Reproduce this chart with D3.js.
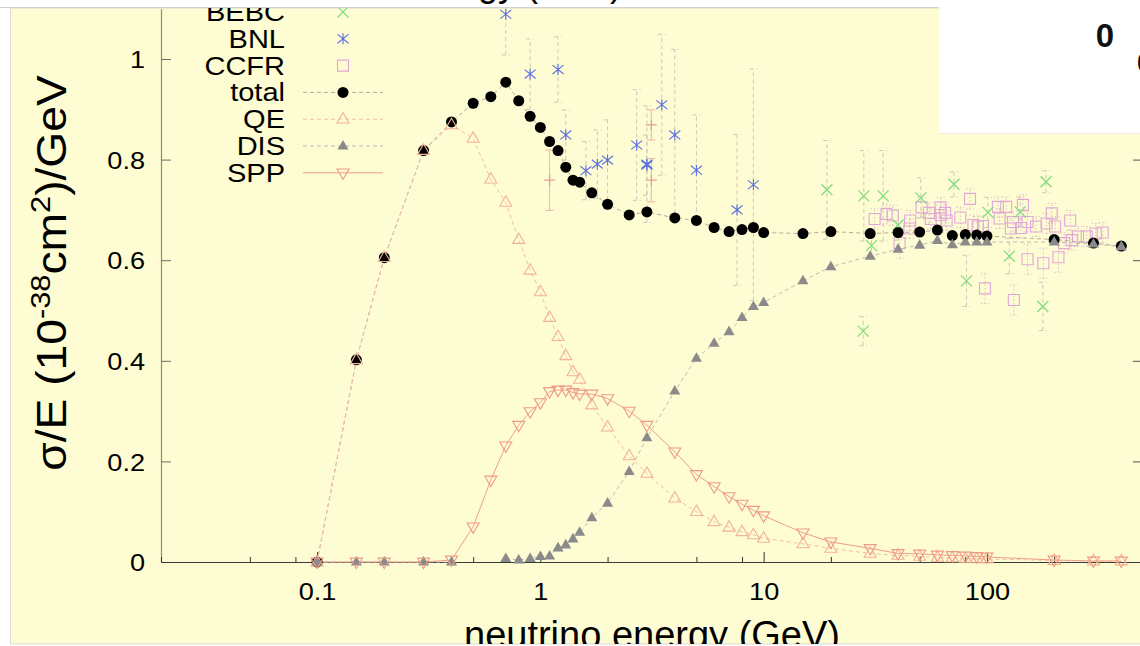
<!DOCTYPE html>
<html>
<head>
<meta charset="utf-8">
<script src="https://cdn.jsdelivr.net/npm/d3@7"></script>
<style>
  html, body { margin: 0; padding: 0; background: #ffffff; overflow: hidden; }
  svg { display: block; }
</style>
</head>
<body>
<svg id="chart" width="1140" height="646"></svg>
<script>
// ---- model curves on a common neutrino-energy grid (GeV) ----
const energies = [0.1, 0.15, 0.2, 0.3, 0.4, 0.5, 0.6, 0.7, 0.8, 0.9, 1.0, 1.1, 1.2, 1.3, 1.4, 1.5, 1.7, 2.0, 2.5, 3.0,
                  4.0, 5.0, 6.0, 7.0, 8.0, 9.0, 10, 15, 20, 30, 40, 50, 60, 70, 80, 90, 100, 200, 300, 400];
const totalXsec = [0, 0.402, 0.605, 0.818, 0.875, 0.912, 0.925, 0.954, 0.917, 0.886, 0.864, 0.836, 0.818, 0.785, 0.759, 0.755, 0.734, 0.711, 0.690, 0.696,
                   0.684, 0.679, 0.665, 0.657, 0.661, 0.665, 0.655, 0.653, 0.657, 0.653, 0.655, 0.656, 0.660, 0.649, 0.651, 0.650, 0.648, 0.641, 0.634, 0.628];
const qeXsec = [0, 0.402, 0.605, 0.818, 0.869, 0.842, 0.761, 0.715, 0.641, 0.580, 0.537, 0.486, 0.448, 0.410, 0.378, 0.363, 0.312, 0.268, 0.211, 0.176,
                0.127, 0.100, 0.080, 0.069, 0.060, 0.054, 0.047, 0.036, 0.027, 0.017, 0.013, 0.011, 0.009, 0.008, 0.007, 0.006, 0.006, 0.003, 0.002, 0.002];
const disXsec = [0, 0, 0, 0, 0, null, null, 0.007, 0.004, 0.007, 0.011, 0.012, 0.028, 0.034, 0.046, 0.059, 0.088, 0.117, 0.180, 0.247,
                 0.340, 0.405, 0.435, 0.458, 0.486, 0.508, 0.516, 0.559, 0.587, 0.608, 0.622, 0.630, 0.639, 0.631, 0.636, 0.636, 0.636, 0.636, 0.632, 0.627];
const sppXsec = [0, 0, 0, 0, 0.004, 0.070, 0.163, 0.231, 0.272, 0.299, 0.317, 0.339, 0.342, 0.342, 0.337, 0.334, 0.334, 0.325, 0.300, 0.272,
                 0.219, 0.174, 0.150, 0.130, 0.115, 0.103, 0.092, 0.058, 0.040, 0.027, 0.017, 0.016, 0.014, 0.013, 0.012, 0.011, 0.010, 0.004, 0.002, 0.002];

// ---- measurements: energy, sigma/E, error ----
const bebcE   = [19.2, 28.1, 34.3, 50.6, 71.2, 184, 30.4, 40, 101, 141, 126, 81, 178, 27.9];
const bebcVal = [0.740, 0.728, 0.728, 0.724, 0.751, 0.756, 0.629, 0.670, 0.695, 0.696, 0.608, 0.559, 0.508, 0.459];
const bebcErr = [0.098, 0.090, 0.090, 0.040, 0.025, 0.022, 0.025, 0.030, 0.030, 0.030, 0.035, 0.051, 0.048, 0.029];

const bnlE   = [0.7, 0.9, 1.2, 1.3, 1.6, 1.8, 2.0, 2.7, 3.0, 3.0, 3.5, 4.0, 5.0, 7.6, 9.0];
const bnlVal = [1.089, 0.970, 0.979, 0.849, 0.778, 0.791, 0.799, 0.829, 0.791, 0.789, 0.909, 0.849, 0.779, 0.700, 0.750];
const bnlErr = [0.081, 0.070, 0.065, 0.050, 0.058, 0.068, 0.080, 0.110, 0.116, 0.060, 0.140, 0.170, 0.110, 0.150, 0.230];

const ccfrE   = [31.4, 35.5, 37.9, 40.6, 45.3, 45, 51, 55, 56, 62, 62, 65, 66, 76, 84, 87, 91, 96, 98, 112, 114, 122, 128, 131, 132,
                 145, 152, 152, 166, 179, 185, 195, 202, 209, 222, 236, 256, 280, 307, 330, 142, 240];
const ccfrVal = [0.682, 0.692, 0.689, 0.634, 0.679, 0.663, 0.705, 0.694, 0.682, 0.705, 0.690, 0.694, 0.679, 0.685, 0.722, 0.670, 0.667, 0.668, 0.544, 0.706, 0.683, 0.706, 0.663, 0.676, 0.521,
                 0.710, 0.676, 0.602, 0.667, 0.594, 0.673, 0.693, 0.667, 0.606, 0.634, 0.679, 0.647, 0.647, 0.653, 0.655, 0.664, 0.640];
const ccfrErr = [0.020, 0.020, 0.020, 0.030, 0.020, 0.020, 0.020, 0.020, 0.020, 0.020, 0.020, 0.020, 0.020, 0.020, 0.020, 0.020, 0.020, 0.020, 0.030, 0.020, 0.020, 0.020, 0.020, 0.020, 0.030,
                 0.020, 0.020, 0.030, 0.020, 0.030, 0.020, 0.020, 0.020, 0.030, 0.020, 0.020, 0.020, 0.020, 0.020, 0.020, 0.020, 0.020];

const plusE   = [1.1, 3.14, 3.14];
const plusVal = [0.759, 0.869, 0.759];
const plusErr = [0.060, 0.030, 0.043];

// ---- axis ticks and legend ----
const xTickValues = [0.1, 1, 10, 100];
const xTickLabels = ["0.1", "1", "10", "100"];
const xMinorTicks = [0.02, 0.05, 0.08, 0.2, 0.5, 0.8, 2, 5, 8, 20, 50, 80, 200];
const yTickValues = [0, 0.2, 0.4, 0.6, 0.8, 1];
const yTickLabels = ["0", "0.2", "0.4", "0.6", "0.8", "1"];
const legendNames = ["BEBC", "BNL", "CCFR", "total", "QE", "DIS", "SPP"];

const FONT = "'Liberation Sans', Arial, Helvetica, sans-serif";
const colors = {
  bg: "#fefcd2",
  total: "#000000", totalLine: "#b9aa9c",
  qe: "#f2b396", qeLine: "#f1bfa6",
  dis: "#8a8a8a", disLine: "#bdbdb5",
  spp: "#ee9a86", sppLine: "#ef9f8c",
  bebc: "#7bdc7b", bnl: "#5b6fe0", ccfr: "#e2a6d8", plus: "#e2a08e",
  errBar: "#cbc8bb"
};

// widen glyphs a little along the reading direction
function stretchText(sel, k) {
  sel.each(function () {
    const w = this.getComputedTextLength();
    d3.select(this).attr("textLength", w * k).attr("lengthAdjust", "spacingAndGlyphs");
  });
}

const svg = d3.select("#chart");

// page frame
svg.append("rect").attr("x", 0).attr("y", 0).attr("width", 1140).attr("height", 646).attr("fill", "#ffffff");
svg.append("defs").append("clipPath").attr("id", "panelClip")
  .append("rect").attr("x", 10).attr("y", 8).attr("width", 1131).attr("height", 636);
svg.append("rect").attr("x", 10.5).attr("y", 8).attr("width", 1140).attr("height", 636)
  .attr("fill", colors.bg).attr("stroke", "#d9d9d2").attr("stroke-width", 1);

const root = svg.append("g").attr("clip-path", "url(#panelClip)");

// scales
const x = d3.scaleLog().domain([0.02, 500]).range([161, 1143]);
const y = d3.scaleLinear().domain([0, 1.1]).range([562, 8.7]);

// axes
const fontAxis = g => g.attr("font-family", FONT).attr("font-size", 24).attr("fill", "#000");

const yAxis = root.append("g").attr("transform", `translate(${x.range()[0]},0)`)
  .call(d3.axisLeft(y).tickValues(yTickValues).tickFormat((d, i) => yTickLabels[i])
        .tickSizeInner(-10).tickSizeOuter(0).tickPadding(16));
yAxis.call(fontAxis);
yAxis.select(".domain").attr("stroke", "#8d8c80").attr("stroke-width", 1.2);
yAxis.selectAll(".tick line").attr("stroke", "#6f6e66");
yAxis.selectAll("text").attr("fill", "#000").attr("dy", "0.36em");
stretchText(yAxis.selectAll("text"), 1.13);

const yAxisRight = root.append("g").attr("transform", `translate(${x.range()[1]},0)`)
  .call(d3.axisRight(y).tickValues(yTickValues).tickFormat("").tickSizeInner(-10).tickSizeOuter(0));
yAxisRight.select(".domain").attr("stroke", "#6f6e66");
yAxisRight.selectAll(".tick line").attr("stroke", "#555");

const xAxisMinor = root.append("g").attr("transform", `translate(0,${y(0)})`)
  .call(d3.axisBottom(x).tickValues(xMinorTicks).tickFormat("").tickSizeInner(-5).tickSizeOuter(0));
xAxisMinor.select(".domain").remove();
xAxisMinor.selectAll(".tick line").attr("stroke", "#333");

const xAxis = root.append("g").attr("transform", `translate(0,${y(0)})`)
  .call(d3.axisBottom(x).tickValues(xTickValues).tickFormat((d, i) => xTickLabels[i])
        .tickSizeInner(-10).tickSizeOuter(0).tickPadding(21));
xAxis.call(fontAxis);
xAxis.select(".domain").attr("stroke", "#3a3a36").attr("stroke-width", 1.2);
xAxis.selectAll(".tick line").attr("stroke", "#333");
xAxis.selectAll("text").attr("fill", "#000");
stretchText(xAxis.selectAll("text"), 1.13);

// axis titles
root.append("text")
  .attr("x", 652).attr("y", 648)
  .attr("text-anchor", "middle")
  .attr("font-family", FONT).attr("font-size", 38)
  .text("neutrino energy (GeV)");

const yTitle = root.append("text")
  .attr("transform", "translate(66,273) rotate(-90) scale(1.1,1)")
  .attr("text-anchor", "middle")
  .attr("font-family", FONT).attr("font-size", 42);
yTitle.append("tspan").text("σ/E (10");
yTitle.append("tspan").attr("dy", -16).attr("font-size", 28).text("-38");
yTitle.append("tspan").attr("dy", 16).text("cm");
yTitle.append("tspan").attr("dy", -16).attr("font-size", 28).text("2");
yTitle.append("tspan").attr("dy", 16).text(")/GeV");

// marker shapes
const symPath = {
  circle: s => d3.symbol(d3.symbolCircle, Math.PI * (s / 2) * (s / 2))(),
  triUp: s => `M0,${-s * 0.55}L${s / 2},${s * 0.32}L${-s / 2},${s * 0.32}Z`,
  triDown: s => `M0,${s * 0.55}L${s / 2},${-s * 0.32}L${-s / 2},${-s * 0.32}Z`,
  cross: s => { const h = s / 2; return `M${-h},${-h}L${h},${h}M${-h},${h}L${h},${-h}`; },
  star: s => { const h = s / 2; return `M${-h},${-h * 0.8}L${h},${h * 0.8}M${-h},${h * 0.8}L${h},${-h * 0.8}M0,${-h}L0,${h}`; },
  square: s => { const h = s / 2; return `M${-h},${-h}H${h}V${h}H${-h}Z`; },
  plus: s => { const h = s / 2; return `M${-h},0H${h}M0,${-h}V${h}`; }
};

// experimental points with error bars
function drawMeasurements(es, vals, errs, opt) {
  const pts = es.map((e, i) => ({ e, v: vals[i], err: errs[i] }));
  const g = root.append("g");
  const bars = g.append("g")
    .attr("stroke", opt.barColor).attr("stroke-width", 1)
    .attr("stroke-dasharray", opt.barDash).attr("fill", "none");
  pts.forEach(p => {
    const cx = x(p.e), y0 = y(p.v - p.err), y1 = y(p.v + p.err);
    bars.append("line").attr("x1", cx).attr("x2", cx).attr("y1", y0).attr("y2", y1);
    bars.append("line").attr("x1", cx - opt.cap).attr("x2", cx + opt.cap).attr("y1", y0).attr("y2", y0).attr("stroke-dasharray", null);
    bars.append("line").attr("x1", cx - opt.cap).attr("x2", cx + opt.cap).attr("y1", y1).attr("y2", y1).attr("stroke-dasharray", null);
  });
  g.append("g").selectAll("path").data(pts).join("path")
    .attr("transform", d => `translate(${x(d.e)},${y(d.v)})`)
    .attr("d", opt.shape(opt.size))
    .attr("fill", "none").attr("stroke", opt.color).attr("stroke-width", opt.width || 1.2);
}

drawMeasurements(plusE, plusVal, plusErr, { shape: symPath.plus, size: 11, color: colors.plus, barColor: "#e8b8a8", barDash: null, cap: 4 });
drawMeasurements(ccfrE, ccfrVal, ccfrErr, { shape: symPath.square, size: 11, color: colors.ccfr, barColor: "#dcc0cc", barDash: "1.5,2", cap: 4, width: 1.1 });
drawMeasurements(bebcE, bebcVal, bebcErr, { shape: symPath.cross, size: 11, color: colors.bebc, barColor: colors.errBar, barDash: "4,3", cap: 4 });
drawMeasurements(bnlE, bnlVal, bnlErr, { shape: symPath.star, size: 11, color: colors.bnl, barColor: colors.errBar, barDash: "4,3", cap: 4, width: 1.1 });

// model curves
const model = [
  { vals: totalXsec, line: colors.totalLine, dash: "4,3", shape: "circle", size: 11, fill: colors.total, stroke: "none" },
  { vals: qeXsec, line: colors.qeLine, dash: "4,3", shape: "triUp", size: 12, fill: "none", stroke: colors.qe },
  { vals: disXsec, line: colors.disLine, dash: "4,3", shape: "triUp", size: 11, fill: colors.dis, stroke: "none" },
  { vals: sppXsec, line: colors.sppLine, dash: null, shape: "triDown", size: 12, fill: "none", stroke: colors.spp }
];

const lineGen = d3.line().defined(d => d.v !== null).x(d => x(d.e)).y(d => y(d.v));
model.forEach(m => {
  const pts = energies.map((e, i) => ({ e, v: m.vals[i] }));
  root.append("path").datum(pts).attr("d", lineGen)
    .attr("fill", "none").attr("stroke", m.line).attr("stroke-width", 1)
    .attr("stroke-dasharray", m.dash);
});
model.forEach(m => {
  const pts = energies.map((e, i) => ({ e, v: m.vals[i] })).filter(d => d.v !== null);
  root.append("g").selectAll("path").data(pts).join("path")
    .attr("transform", d => `translate(${x(d.e)},${y(d.v)})`)
    .attr("d", symPath[m.shape](m.size))
    .attr("fill", m.fill).attr("stroke", m.stroke).attr("stroke-width", 1.1);
});

// legend
const legendStyles = {
  BEBC:  { shape: "cross", size: 11, fill: "none", stroke: colors.bebc, line: null },
  BNL:   { shape: "star", size: 11, fill: "none", stroke: colors.bnl, line: null },
  CCFR:  { shape: "square", size: 11, fill: "none", stroke: colors.ccfr, line: null },
  total: { shape: "circle", size: 11, fill: colors.total, stroke: "none", line: colors.totalLine, dash: "4,3" },
  QE:    { shape: "triUp", size: 12, fill: "none", stroke: colors.qe, line: colors.qeLine, dash: "4,3" },
  DIS:   { shape: "triUp", size: 11, fill: colors.dis, stroke: "none", line: colors.disLine, dash: "4,3" },
  SPP:   { shape: "triDown", size: 12, fill: "none", stroke: colors.spp, line: colors.sppLine, dash: null }
};
const legend = root.append("g");
legendNames.forEach((name, i) => {
  const cy = 12 + i * 26.8;
  const st = legendStyles[name];
  const label = legend.append("text").attr("x", 285).attr("y", cy).attr("dy", "0.36em")
    .attr("text-anchor", "end").attr("font-family", FONT).attr("font-size", 25).text(name);
  stretchText(label, 1.16);
  if (st.line) {
    legend.append("line").attr("x1", 303).attr("x2", 383).attr("y1", cy).attr("y2", cy)
      .attr("stroke", st.line).attr("stroke-width", 1).attr("stroke-dasharray", st.dash);
  }
  legend.append("path").attr("transform", `translate(343,${cy})`)
    .attr("d", symPath[st.shape](st.size))
    .attr("fill", st.fill).attr("stroke", st.stroke).attr("stroke-width", 1.1);
});

// overlapping panels along the top edge
const topBox = svg.append("g");
topBox.append("rect").attr("x", -1).attr("y", -1).attr("width", 1018.5).attr("height", 8.5)
  .attr("fill", "#ffffff").attr("stroke", "#d2d2d2").attr("stroke-width", 1);
topBox.append("clipPath").attr("id", "topClip").append("rect").attr("x", 0).attr("y", 0).attr("width", 1017).attr("height", 7);
topBox.append("text").attr("clip-path", "url(#topClip)")
  .attr("x", 622).attr("y", -4).attr("text-anchor", "end")
  .attr("font-family", FONT).attr("font-size", 36).text("energy (GeV)");

const sidePanel = svg.append("g");
sidePanel.append("rect").attr("x", 939).attr("y", 0).attr("width", 201).attr("height", 133).attr("fill", "#ffffff");
sidePanel.append("line").attr("x1", 939).attr("x2", 1140).attr("y1", 133.5).attr("y2", 133.5)
  .attr("stroke", "#ececea").attr("stroke-width", 1);
sidePanel.append("text").attr("x", 1105).attr("y", 47).attr("text-anchor", "middle")
  .attr("font-family", FONT).attr("font-weight", "bold").attr("font-size", 33).attr("fill", "#111").text("0");
sidePanel.append("text").attr("x", 1137).attr("y", 72).attr("text-anchor", "start")
  .attr("font-family", FONT).attr("font-weight", "bold").attr("font-size", 27).attr("fill", "#111").text("0");
</script>
</body>
</html>
